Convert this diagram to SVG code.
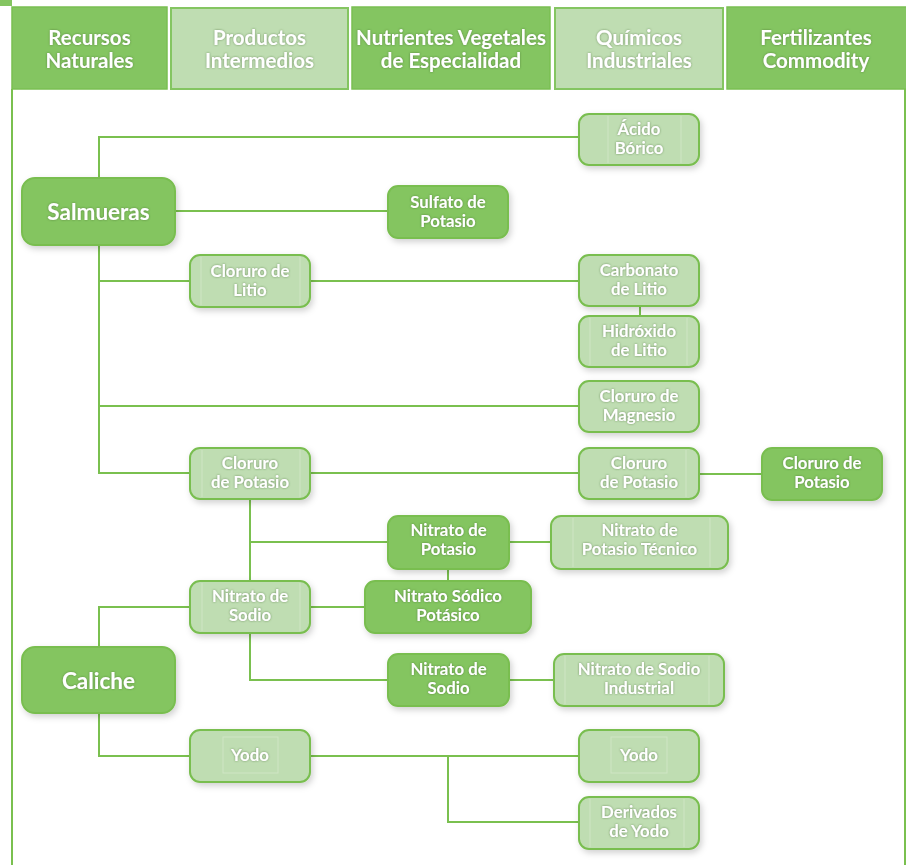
<svg xmlns="http://www.w3.org/2000/svg" width="906" height="865" viewBox="0 0 906 865">
<defs>
<filter id="sh" x="-20%" y="-20%" width="150%" height="160%">
<feDropShadow dx="2" dy="3" stdDeviation="3" flood-color="#000" flood-opacity="0.18"/>
</filter>
<filter id="ts" x="-10%" y="-30%" width="120%" height="160%">
<feDropShadow dx="0" dy="0" stdDeviation="1.3" flood-color="#3a5a2a" flood-opacity="0.6"/>
</filter>
</defs>
<style>
.dark{fill:#84C561;stroke:#79BE50;stroke-width:2}
.light{fill:#BFDDB2;stroke:#79BE50;stroke-width:2}
.hd{fill:#84C561;stroke:#7ABF52;stroke-width:1.5}
.hl{fill:#BFDDB2;stroke:#84C561;stroke-width:2}
.ht{font-family:Lato,"Liberation Sans",sans-serif;font-weight:bold;font-size:20.5px;fill:#fff;text-anchor:middle}
.t{font-family:Lato,"Liberation Sans",sans-serif;font-weight:bold;font-size:16.8px;fill:#fff;text-anchor:middle}
.big{font-size:22.5px}
.c{fill:none;stroke:#7AC04F;stroke-width:2}
.inner{stroke:#fff;stroke-opacity:0.25;stroke-width:1}
</style>
<rect x="0" y="0" width="12" height="6" fill="#84C561"/>
<g id="header">
<rect class="hd" x="12" y="7" width="155" height="82"/>
<rect class="hl" x="171" y="8" width="177" height="81"/>
<rect class="hd" x="352" y="7" width="198" height="82"/>
<rect class="hl" x="555" y="8" width="168" height="81"/>
<rect class="hd" x="727" y="7" width="180" height="82"/>
<g filter="url(#ts)">
<text class="ht" x="89.5" y="45">Recursos</text><text class="ht" x="89.5" y="68">Naturales</text>
<text class="ht" x="259.5" y="45">Productos</text><text class="ht" x="259.5" y="68">Intermedios</text>
<text class="ht" x="451" y="45">Nutrientes Vegetales</text><text class="ht" x="451" y="68">de Especialidad</text>
<text class="ht" x="639" y="45">Químicos</text><text class="ht" x="639" y="68">Industriales</text>
<text class="ht" x="816" y="45">Fertilizantes</text><text class="ht" x="816" y="68">Commodity</text>
</g>
</g>
<g id="connectors">
<path class="c" d="M12 89 V865"/>
<path class="c" d="M905 89 V865"/>
<path class="c" d="M99 178 V137 H579"/>
<path class="c" d="M175 211 H388"/>
<path class="c" d="M99 245 V473 H190"/>
<path class="c" d="M99 281 H190"/>
<path class="c" d="M99 406 H579"/>
<path class="c" d="M310 281 H579"/>
<path class="c" d="M640 306 V316"/>
<path class="c" d="M310 473 H579"/>
<path class="c" d="M699 474 H762"/>
<path class="c" d="M250 499 V581"/>
<path class="c" d="M250 542 H388"/>
<path class="c" d="M509 542 H551"/>
<path class="c" d="M448 569 V581"/>
<path class="c" d="M310 607 H365"/>
<path class="c" d="M190 607 H99 V647"/>
<path class="c" d="M250 633 V680 H388"/>
<path class="c" d="M509 680 H554"/>
<path class="c" d="M99 713 V756 H190"/>
<path class="c" d="M310 756 H579"/>
<path class="c" d="M448 756 V822 H579"/>
</g>
<g id="salmueras"><rect class="dark" filter="url(#sh)" x="22" y="178" width="153" height="67" rx="13"/><text class="t big" filter="url(#ts)" x="98.5" y="219.5">Salmueras</text></g>
<g id="caliche"><rect class="dark" filter="url(#sh)" x="22" y="647" width="153" height="66" rx="13"/><text class="t big" filter="url(#ts)" x="98.5" y="688.5">Caliche</text></g>
<g id="acido-borico"><rect class="light" filter="url(#sh)" x="579" y="114" width="120" height="51" rx="10"/><path class="inner" d="M608 116 V163 M681 116 V163"/><text class="t" filter="url(#ts)" x="639" y="135">Ácido</text><text class="t" filter="url(#ts)" x="639" y="154">Bórico</text></g>
<g id="sulfato-potasio"><rect class="dark" filter="url(#sh)" x="388" y="186" width="120" height="52" rx="10"/><text class="t" filter="url(#ts)" x="448" y="208">Sulfato de</text><text class="t" filter="url(#ts)" x="448" y="227">Potasio</text></g>
<g id="cloruro-litio"><rect class="light" filter="url(#sh)" x="190" y="255" width="120" height="52" rx="10"/><path class="inner" d="M201 257 V305 M300 257 V305"/><text class="t" filter="url(#ts)" x="250" y="277">Cloruro de</text><text class="t" filter="url(#ts)" x="250" y="296">Litio</text></g>
<g id="carbonato-litio"><rect class="light" filter="url(#sh)" x="579" y="255" width="120" height="51" rx="10"/><text class="t" filter="url(#ts)" x="639" y="276">Carbonato</text><text class="t" filter="url(#ts)" x="639" y="295">de Litio</text></g>
<g id="hidroxido-litio"><rect class="light" filter="url(#sh)" x="579" y="316" width="120" height="51" rx="10"/><path class="inner" d="M590 318 V365 M687 318 V365"/><text class="t" filter="url(#ts)" x="639" y="337">Hidróxido</text><text class="t" filter="url(#ts)" x="639" y="356">de Litio</text></g>
<g id="cloruro-magnesio"><rect class="light" filter="url(#sh)" x="579" y="381" width="120" height="51" rx="10"/><text class="t" filter="url(#ts)" x="639" y="402">Cloruro de</text><text class="t" filter="url(#ts)" x="639" y="421">Magnesio</text></g>
<g id="cloruro-potasio-int"><rect class="light" filter="url(#sh)" x="190" y="448" width="120" height="51" rx="10"/><path class="inner" d="M202 450 V497 M300 450 V497"/><text class="t" filter="url(#ts)" x="250" y="469">Cloruro</text><text class="t" filter="url(#ts)" x="250" y="488">de Potasio</text></g>
<g id="cloruro-potasio-ind"><rect class="light" filter="url(#sh)" x="579" y="448" width="120" height="51" rx="10"/><path class="inner" d="M686 450 V497"/><text class="t" filter="url(#ts)" x="639" y="469">Cloruro</text><text class="t" filter="url(#ts)" x="639" y="488">de Potasio</text></g>
<g id="cloruro-potasio-com"><rect class="dark" filter="url(#sh)" x="762" y="448" width="120" height="52" rx="10"/><text class="t" filter="url(#ts)" x="822" y="469">Cloruro de</text><text class="t" filter="url(#ts)" x="822" y="488">Potasio</text></g>
<g id="nitrato-potasio"><rect class="dark" filter="url(#sh)" x="388" y="516" width="121" height="53" rx="10"/><text class="t" filter="url(#ts)" x="448.5" y="536">Nitrato de</text><text class="t" filter="url(#ts)" x="448.5" y="555">Potasio</text></g>
<g id="nitrato-potasio-tecnico"><rect class="light" filter="url(#sh)" x="551" y="516" width="177" height="53" rx="10"/><path class="inner" d="M573 518 V567 M710 518 V567"/><text class="t" filter="url(#ts)" x="639.5" y="536">Nitrato de</text><text class="t" filter="url(#ts)" x="639.5" y="555">Potasio Técnico</text></g>
<g id="nitrato-sodico-potasico"><rect class="dark" filter="url(#sh)" x="365" y="581" width="166" height="52" rx="10"/><text class="t" filter="url(#ts)" x="448" y="602">Nitrato Sódico</text><text class="t" filter="url(#ts)" x="448" y="621">Potásico</text></g>
<g id="nitrato-sodio-int"><rect class="light" filter="url(#sh)" x="190" y="581" width="120" height="52" rx="10"/><path class="inner" d="M202 583 V631 M300 583 V631"/><text class="t" filter="url(#ts)" x="250" y="602">Nitrato de</text><text class="t" filter="url(#ts)" x="250" y="621">Sodio</text></g>
<g id="nitrato-sodio-esp"><rect class="dark" filter="url(#sh)" x="388" y="654" width="121" height="52" rx="10"/><text class="t" filter="url(#ts)" x="448.5" y="675">Nitrato de</text><text class="t" filter="url(#ts)" x="448.5" y="694">Sodio</text></g>
<g id="nitrato-sodio-industrial"><rect class="light" filter="url(#sh)" x="554" y="654" width="170" height="52" rx="10"/><path class="inner" d="M565 656 V704 M709 656 V704"/><text class="t" filter="url(#ts)" x="639" y="675">Nitrato de Sodio</text><text class="t" filter="url(#ts)" x="639" y="694">Industrial</text></g>
<g id="yodo-int"><rect class="light" filter="url(#sh)" x="190" y="730" width="120" height="52" rx="10"/><rect class="inner" fill="none" x="223" y="737" width="55" height="36"/><text class="t" filter="url(#ts)" x="250" y="761">Yodo</text></g>
<g id="yodo-ind"><rect class="light" filter="url(#sh)" x="579" y="730" width="120" height="52" rx="10"/><rect class="inner" fill="none" x="611" y="737" width="56" height="36"/><text class="t" filter="url(#ts)" x="639" y="761">Yodo</text></g>
<g id="derivados-yodo"><rect class="light" filter="url(#sh)" x="579" y="797" width="120" height="52" rx="10"/><path class="inner" d="M590 799 V847 M684 799 V847"/><text class="t" filter="url(#ts)" x="639" y="818">Derivados</text><text class="t" filter="url(#ts)" x="639" y="837">de Yodo</text></g>
</svg>
